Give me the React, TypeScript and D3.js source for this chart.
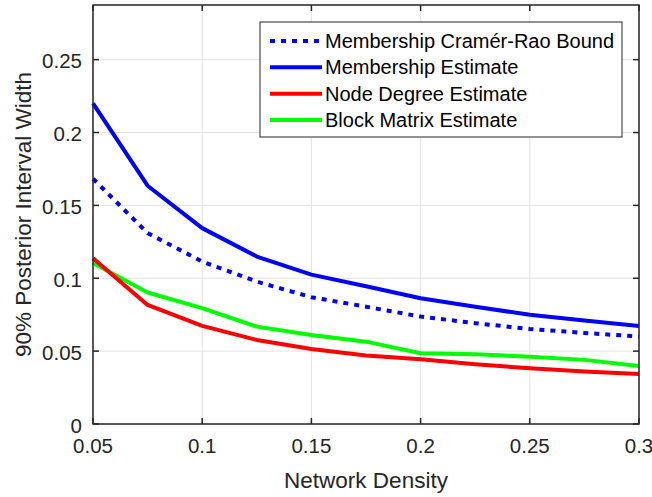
import * as d3 from "d3";
import { useEffect, useRef } from "react";

// network density (x)
const densities = [0.05, 0.075, 0.1, 0.125, 0.15, 0.175, 0.2, 0.225, 0.25, 0.275, 0.3];

// 90% posterior interval widths
const crbBound = [0.1683, 0.131, 0.1115, 0.0977, 0.087, 0.0805, 0.0737, 0.0692, 0.0652, 0.0625, 0.06];
const membershipEst = [0.22, 0.1635, 0.1344, 0.1149, 0.1025, 0.0945, 0.0863, 0.0805, 0.0749, 0.071, 0.0673];
const nodeDegreeEst = [0.1138, 0.0817, 0.0673, 0.0577, 0.0515, 0.047, 0.0444, 0.041, 0.0382, 0.036, 0.0343];
const blockMatrixEst = [0.1104, 0.0902, 0.0795, 0.0668, 0.061, 0.0565, 0.0486, 0.0478, 0.0462, 0.044, 0.0398];

const xTicks = [0.05, 0.1, 0.15, 0.2, 0.25, 0.3];
const yTicks = [0, 0.05, 0.1, 0.15, 0.2, 0.25];

const seriesNames = [
  "Membership Cramér-Rao Bound",
  "Membership Estimate",
  "Node Degree Estimate",
  "Block Matrix Estimate",
];

export default function App() {
  const ref = useRef<SVGSVGElement>(null);

  useEffect(() => {
    const svg = d3.select(ref.current);
    svg.selectAll("*").remove();

    const left = 93, right = 639, top = 5, bottom = 424;
    const font = "Liberation Sans, Arial, sans-serif";
    const axisColor = "#262626";

    const x = d3.scaleLinear().domain([0.05, 0.3]).range([left, right]);
    const y = d3.scaleLinear().domain([0, 0.2875]).range([bottom, top]);

    svg.append("rect")
      .attr("width", 652).attr("height", 497).attr("fill", "#fff");

    //grid
    const grid = svg.append("g").attr("stroke", "#e3e3e3").attr("stroke-width", 1);
    grid.selectAll("line.gx").data(xTicks).enter().append("line")
      .attr("x1", d => x(d)).attr("x2", d => x(d))
      .attr("y1", top).attr("y2", bottom);
    grid.selectAll("line.gy").data(yTicks).enter().append("line")
      .attr("x1", left).attr("x2", right)
      .attr("y1", d => y(d)).attr("y2", d => y(d));

    //series
    const series = [
      { vals: crbBound, color: "#0000ff", dash: "5 6" },
      { vals: membershipEst, color: "#0000ff", dash: null },
      { vals: nodeDegreeEst, color: "#ff0000", dash: null },
      { vals: blockMatrixEst, color: "#00ff00", dash: null },
    ];
    const line = d3.line<number>()
      .x((d, i) => x(densities[i]))
      .y(d => y(d));

    // draw bottom layers first so blue lines stay on top like the original
    [3, 2, 0, 1].forEach(k => {
      const s = series[k];
      svg.append("path")
        .datum(s.vals)
        .attr("fill", "none")
        .attr("stroke", s.color)
        .attr("stroke-width", 4)
        .attr("stroke-linejoin", "round")
        .attr("stroke-dasharray", s.dash)
        .attr("d", line);
    });

    //axes box
    const axes = svg.append("g").attr("stroke", axisColor).attr("stroke-width", 1.5).attr("fill", "none");
    axes.append("rect")
      .attr("x", left).attr("y", top)
      .attr("width", right - left).attr("height", bottom - top);
    const tl = 6;
    xTicks.forEach(t => {
      axes.append("line").attr("x1", x(t)).attr("x2", x(t)).attr("y1", bottom).attr("y2", bottom - tl);
      axes.append("line").attr("x1", x(t)).attr("x2", x(t)).attr("y1", top).attr("y2", top + tl);
    });
    yTicks.forEach(t => {
      axes.append("line").attr("x1", left).attr("x2", left + tl).attr("y1", y(t)).attr("y2", y(t));
      axes.append("line").attr("x1", right).attr("x2", right - tl).attr("y1", y(t)).attr("y2", y(t));
    });

    //tick labels
    svg.append("g").selectAll("text").data(xTicks).enter().append("text")
      .attr("x", d => x(d)).attr("y", bottom + 29)
      .attr("text-anchor", "middle")
      .attr("font-family", font).attr("font-size", 20.5).attr("fill", axisColor)
      .text(d => String(d));
    svg.append("g").selectAll("text").data(yTicks).enter().append("text")
      .attr("x", left - 11).attr("y", d => y(d) + 8.5)
      .attr("text-anchor", "end")
      .attr("font-family", font).attr("font-size", 20.5).attr("fill", axisColor)
      .text(d => String(d));

    //axis labels
    svg.append("text")
      .attr("x", (left + right) / 2).attr("y", 488)
      .attr("text-anchor", "middle")
      .attr("font-family", font).attr("font-size", 22.5).attr("fill", axisColor)
      .text("Network Density");
    svg.append("text")
      .attr("transform", `translate(31, ${(top + bottom) / 2}) rotate(-90)`)
      .attr("text-anchor", "middle")
      .attr("font-family", font).attr("font-size", 22.5).attr("fill", axisColor)
      .text("90% Posterior Interval Width");

    //legend
    const legend = svg.append("g");
    legend.append("rect")
      .attr("x", 260).attr("y", 22).attr("width", 362).attr("height", 115)
      .attr("fill", "#fff").attr("stroke", axisColor).attr("stroke-width", 1);
    const rowY = d3.scaleLinear().domain([0, 3]).range([41, 120]);
    series.forEach((s, i) => {
      legend.append("line")
        .attr("x1", 270).attr("x2", 322)
        .attr("y1", rowY(i)).attr("y2", rowY(i))
        .attr("stroke", s.color).attr("stroke-width", 4)
        .attr("stroke-dasharray", s.dash);
      legend.append("text")
        .attr("x", 325).attr("y", rowY(i) + 7)
        .attr("font-family", font).attr("font-size", 20).attr("fill", "#000")
        .text(seriesNames[i]);
    });
  }, []);

  return (
    <svg ref={ref} width={652} height={497}
      style={{ position: "absolute", left: 0, top: 0, display: "block" }} />
  );
}
